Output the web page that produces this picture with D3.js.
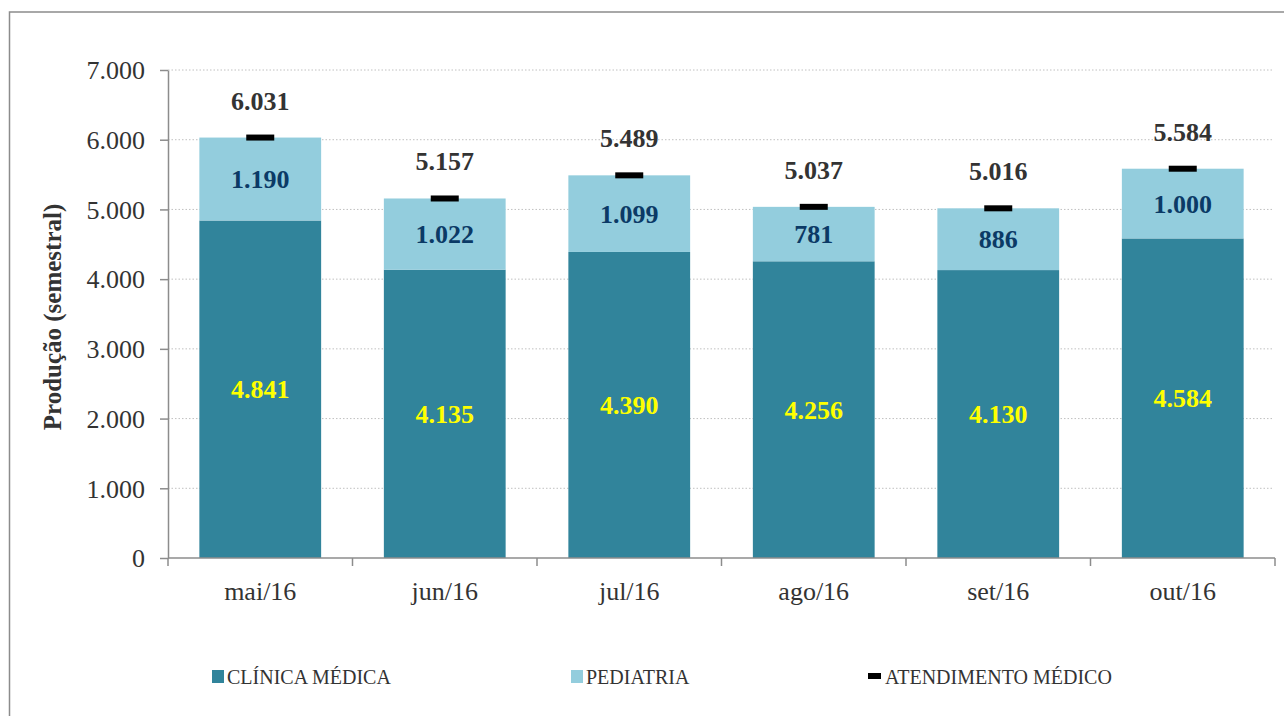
<!DOCTYPE html>
<html><head><meta charset="utf-8">
<script src="https://cdn.jsdelivr.net/npm/d3@7"></script>
<style>body{margin:0;background:#fff}svg{display:block}</style>
</head><body><svg id="c" width="1284" height="716"></svg>
<script>
const categories = ["mai/16","jun/16","jul/16","ago/16","set/16","out/16"];
const clinica = [4841, 4135, 4390, 4256, 4130, 4584];
const pediatria = [1190, 1022, 1099, 781, 886, 1000];
const atendimento = [6031, 5157, 5489, 5037, 5016, 5584];
const yTicks = [0,1000,2000,3000,4000,5000,6000,7000];
const seriesNames = ["CLÍNICA MÉDICA","PEDIATRIA","ATENDIMENTO MÉDICO"];

const FF = '"Liberation Serif","Times New Roman",serif';
const fmt = v => d3.format(",")(v).replace(/,/g,".");
const svg = d3.select("#c");
const colDark = "#31849B", colLight = "#93CDDD";
const x0 = 168, x1 = 1275, yTop = 70, yBot = 558;

svg.append("rect").attr("x",9.5).attr("y",12).attr("width",1300).attr("height",720)
  .attr("fill","none").attr("stroke","#8c8c8c").attr("stroke-width",1.5);

const x = d3.scaleBand().domain(categories).range([x0,x1]).paddingInner(0.34).paddingOuter(0.17);
const y = d3.scaleLinear().domain([0,7000]).range([yBot,yTop]);

// gridlines
svg.append("g").selectAll("line").data(yTicks.filter(d=>d>0)).join("line")
  .attr("x1",x0).attr("x2",x1-1).attr("y1",d=>y(d)).attr("y2",d=>y(d))
  .attr("stroke","#c0c0c0").attr("stroke-width",1).attr("stroke-dasharray","1.5,2");

// bars
const g = svg.append("g");
g.selectAll("rect.c").data(categories).join("rect").attr("class","c")
  .attr("x",d=>x(d)).attr("width",x.bandwidth())
  .attr("y",(d,i)=>y(clinica[i])).attr("height",(d,i)=>y(0)-y(clinica[i])).attr("fill",colDark);
g.selectAll("rect.p").data(categories).join("rect").attr("class","p")
  .attr("x",d=>x(d)).attr("width",x.bandwidth())
  .attr("y",(d,i)=>y(clinica[i]+pediatria[i])).attr("height",(d,i)=>y(clinica[i])-y(clinica[i]+pediatria[i])).attr("fill",colLight);

// markers
g.selectAll("rect.m").data(categories).join("rect").attr("class","m")
  .attr("x",d=>x(d)+x.bandwidth()/2-14).attr("width",28)
  .attr("y",(d,i)=>y(atendimento[i])-3).attr("height",6).attr("fill","#000");

// axes
const yAxis = d3.axisLeft(y).tickValues(yTicks).tickFormat(fmt).tickSize(8).tickSizeOuter(0);
const ya = svg.append("g").attr("transform",`translate(${x0},0)`).call(yAxis);
ya.attr("font-family",null).attr("font-size",null);
ya.select(".domain").attr("stroke","#8c8c8c").attr("stroke-width",1.5);
ya.selectAll(".tick line").attr("stroke","#8c8c8c").attr("stroke-width",1.5);
ya.selectAll(".tick text").attr("x",-23).attr("dy","0.34em").attr("fill","#333")
  .style("font-size","26px").style("font-family",FF);

svg.append("line").attr("x1",x0).attr("x2",x1).attr("y1",yBot).attr("y2",yBot)
  .attr("stroke","#8c8c8c").attr("stroke-width",1.5);
const bounds = [x0].concat(categories.map(c=>x(c)+x.bandwidth()+x.step()*x.paddingInner()/2));
bounds[bounds.length-1] = x1;
svg.append("g").selectAll("line").data(bounds).join("line")
  .attr("x1",d=>d).attr("x2",d=>d).attr("y1",yBot).attr("y2",yBot+8)
  .attr("stroke","#8c8c8c").attr("stroke-width",1.5);
svg.append("g").selectAll("text").data(categories).join("text")
  .attr("x",d=>x(d)+x.bandwidth()/2).attr("y",600).attr("text-anchor","middle")
  .attr("fill","#333").style("font-size","26px").style("font-family",FF).text(d=>d);

// y title
svg.append("text").attr("transform",`translate(61,317) rotate(-90)`)
  .attr("text-anchor","middle").attr("fill","#333").style("font-size","25px").style("font-weight","bold")
  .style("font-family",FF).text("Produção (semestral)");

// labels
const lab = svg.append("g");
function styl(s){ return s.style("font-weight","bold").style("font-size","26px").style("font-family",FF).attr("text-anchor","middle"); }
styl(lab.selectAll("text.c").data(categories).join("text").attr("class","c")
  .attr("x",d=>x(d)+x.bandwidth()/2).attr("y",(d,i)=>(y(0)+y(clinica[i]))/2+9)
  .attr("fill","#FFFF00").text((d,i)=>fmt(clinica[i])));
styl(lab.selectAll("text.p").data(categories).join("text").attr("class","p")
  .attr("x",d=>x(d)+x.bandwidth()/2).attr("y",(d,i)=>(y(clinica[i])+y(clinica[i]+pediatria[i]))/2+9)
  .attr("fill","#0B3A66").text((d,i)=>fmt(pediatria[i])));
styl(lab.selectAll("text.t").data(categories).join("text").attr("class","t")
  .attr("x",d=>x(d)+x.bandwidth()/2).attr("y",(d,i)=>y(atendimento[i])-28)
  .attr("fill","#333").text((d,i)=>fmt(atendimento[i])));

// legend
const leg = svg.append("g");
const legItems = [{x:212,type:"sq",c:colDark},{x:571,type:"sq",c:colLight},{x:868,type:"ln",c:"#000"}];
legItems.forEach((it,i)=>{
  if(it.type==="sq") leg.append("rect").attr("x",it.x).attr("y",670).attr("width",12).attr("height",13).attr("fill",it.c);
  else leg.append("rect").attr("x",it.x).attr("y",673).attr("width",13).attr("height",6).attr("fill",it.c);
  leg.append("text").attr("x",it.x+(it.type==="sq"?15:17)).attr("y",684).attr("fill","#333")
    .style("font-size","20px").style("font-family",FF).text(seriesNames[i]);
});
</script></body></html>
